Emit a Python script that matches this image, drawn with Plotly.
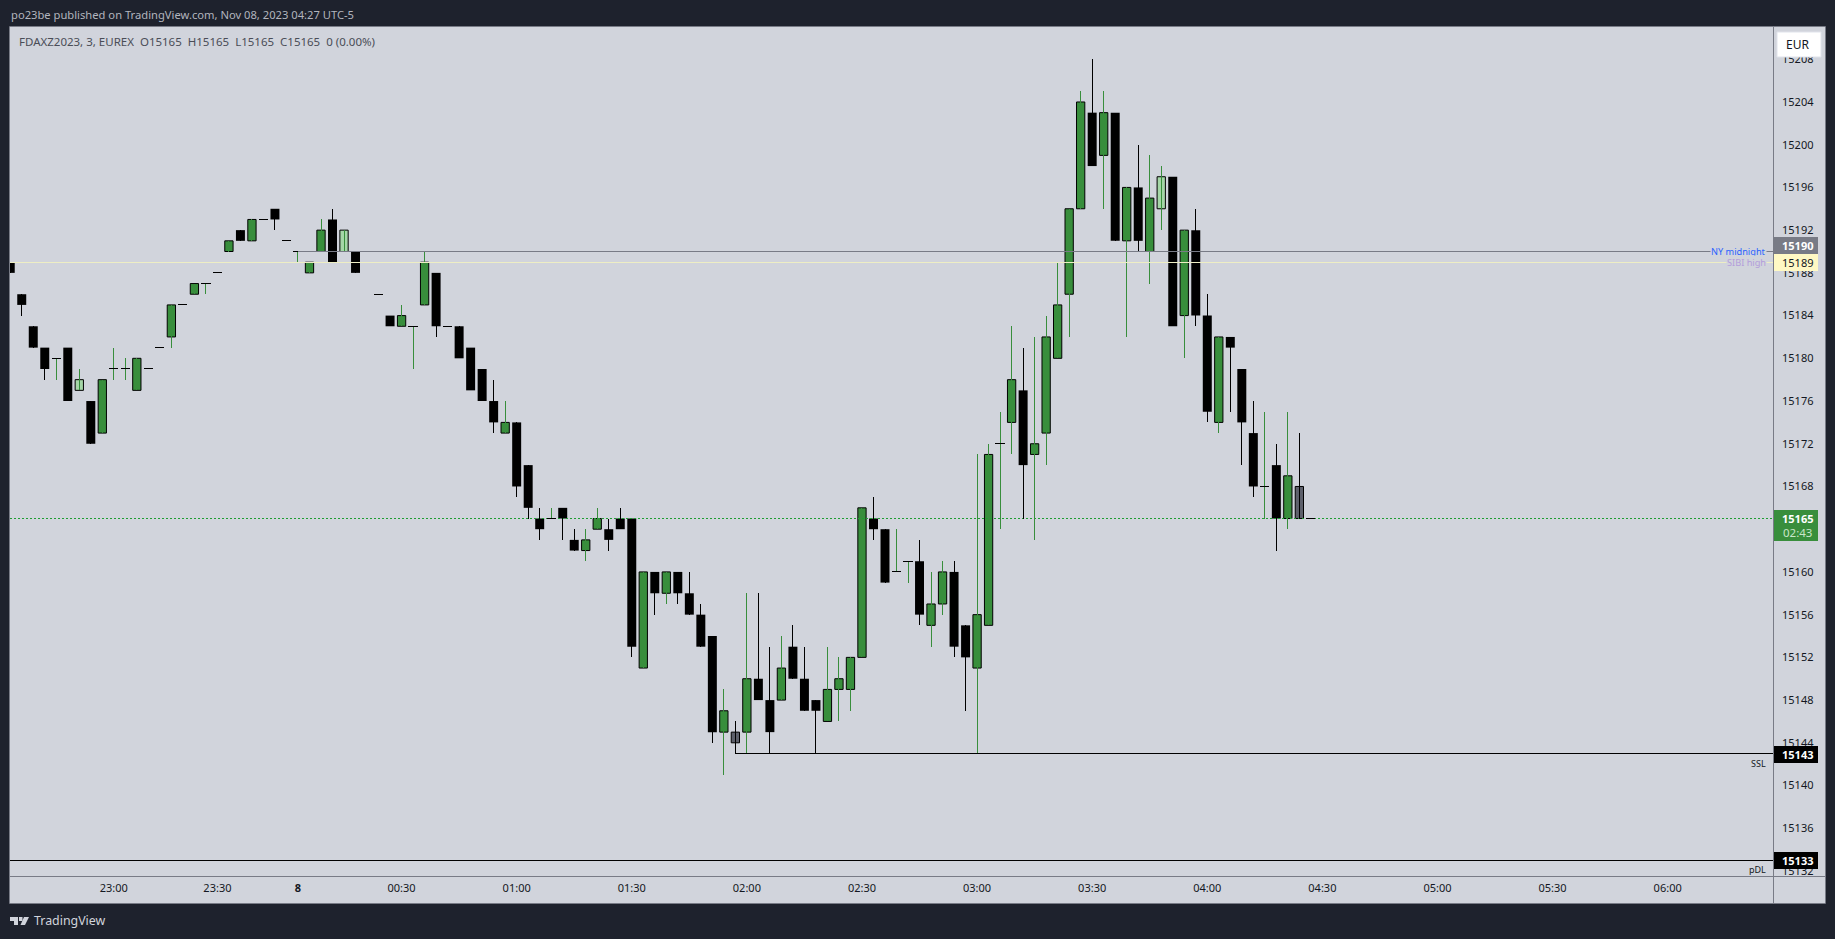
import plotly.graph_objects as go

opens  = [15189,15186,15183,15181,15180,15181,15177,15176,15173,15179,15179,15177,15179,15181,15182,15185,15186,15187,15188,15190,
          15192,15191,15193,15194,15191,15190,15188,15190,15193,15190,15190,None,15186,15184,15183,15183,15185,15188,15183,15183,
          15181,15179,15176,15173,15174,15170,15165,15165,15166,15163,15162,15164,15164,15165,15165,15151,15160,15158,15160,15158,
          15156,15154,15145,15145,15145,15150,15148,15148,15153,15150,15148,15146,15149,15149,15152,15165,15164,15160,15161,15161,
          15155,15157,15160,15155,15151,15155,15172,15174,15177,15171,15173,15180,15186,15194,15203,15199,15203,15191,15196,15190,
          15194,15197,15184,15192,15184,15174,15182,15179,15173,15168,15170,15165,15168,15165]
highs  = [15189,15186,15183,15181,15180,15181,15179,15176,15178,15181,15180,15180,15179,15181,15185,15185,15187,15187,15188,15191,
          15192,15193,15193,15194,15191,15190,15189,15193,15194,15192,15190,None,15186,15184,15185,15183,15190,15188,15183,15183,
          15181,15179,15178,15176,15174,15170,15166,15166,15166,15164,15164,15166,15165,15166,15165,15160,15160,15160,15160,15160,
          15157,15154,15149,15146,15158,15158,15153,15154,15155,15153,15148,15153,15152,15152,15166,15167,15164,15164,15161,15163,
          15160,15161,15161,15155,15171,15172,15175,15183,15181,15182,15184,15189,15194,15205,15208,15205,15203,15196,15200,15199,
          15198,15197,15192,15194,15186,15182,15182,15179,15176,15175,15172,15175,15173,15165]
lows   = [15188,15184,15181,15178,15178,15176,15177,15172,15173,15178,15178,15177,15179,15181,15181,15185,15186,15186,15188,15190,
          15191,15191,15193,15192,15191,15189,15188,15190,15189,15190,15188,None,15186,15183,15183,15179,15185,15182,15183,15180,
          15177,15176,15173,15173,15167,15165,15163,15165,15163,15162,15161,15164,15162,15164,15152,15151,15156,15157,15157,15156,
          15153,15144,15141,15143,15143,15148,15143,15148,15150,15147,15143,15146,15146,15147,15152,15163,15159,15160,15159,15155,
          15153,15156,15152,15147,15143,15155,15164,15171,15165,15163,15170,15180,15182,15194,15198,15194,15191,15182,15190,15187,
          15192,15183,15180,15183,15174,15173,15175,15170,15167,15165,15162,15164,15165,15165]
closes = [15188,15185,15181,15179,15180,15176,15178,15172,15178,15179,15179,15180,15179,15181,15185,15185,15187,15187,15188,15191,
          15191,15193,15193,15193,15191,15190,15189,15192,15189,15192,15188,None,15186,15183,15184,15183,15189,15183,15183,15180,
          15177,15176,15174,15174,15168,15166,15164,15165,15165,15162,15163,15165,15163,15164,15153,15160,15158,15160,15158,15156,
          15153,15145,15147,15144,15150,15148,15145,15151,15150,15147,15147,15149,15150,15152,15166,15164,15159,15160,15161,15156,
          15157,15160,15153,15152,15156,15171,15172,15178,15170,15172,15182,15185,15194,15204,15198,15203,15191,15196,15191,15195,
          15197,15183,15192,15184,15175,15182,15181,15174,15168,15168,15165,15169,15165,15165]

light_bars = [6, 29, 100]
gray_bars = [63, 112]

price_ticks = list(range(15132, 15209, 4))
time_tick_bars = [9, 18, 25, 34, 44, 54, 64, 74, 84, 94, 104, 114, 124, 134, 144]
time_tick_labels = ["23:00", "23:30", "<b>8</b>", "00:30", "01:00", "01:30", "02:00", "02:30", "03:00",
                    "03:30", "04:00", "04:30", "05:00", "05:30", "06:00"]

ny_midnight, sibi_high, last_price, ssl_level, pdl_level = 15190, 15189, 15165, 15143, 15133
ny_start_bar, ssl_start_bar = 25, 63

BG = "#d1d4dc"; DARK = "#1e222d"; FRAME = "#787b86"; GREEN = "#388e3c"; LIGHT = "#a5d6a7"; GRAY = "#5d606b"
FONT = "Noto Sans"
W, H = 1835, 939
L, R, T, B = 10, 1773, 27, 876
X_RANGE = [-0.02, 153.15]
Y_RANGE = [15131.53, 15211.02]

def px(x): return (x - L) / (R - L)
def py(y): return (B - y) / (B - T)

idx = [i for i, o in enumerate(opens) if o is not None]

def segs(xy):
    xs, ys = [], []
    for a, b, c, d in xy:
        xs += [a, b, None]; ys += [c, d, None]
    return xs, ys

green_w = [(i, i, lows[i], highs[i]) for i in idx if closes[i] >= opens[i] and highs[i] > lows[i]]
black_w = [(i, i, lows[i], highs[i]) for i in idx if closes[i] < opens[i] and highs[i] > lows[i]]
doji = [(i - 0.4, i + 0.4, opens[i], opens[i]) for i in idx if opens[i] == closes[i]]

def body(ids):
    return dict(x=ids, base=[min(opens[i], closes[i]) for i in ids], y=[abs(closes[i] - opens[i]) for i in ids])

special = set(light_bars + gray_bars)
up = [i for i in idx if closes[i] > opens[i] and i not in special]
down = [i for i in idx if closes[i] < opens[i] and i not in special]

fig = go.Figure()
fig.add_trace(go.Scatter(x=[X_RANGE[0], X_RANGE[1]], y=[last_price] * 2, mode="lines",
                         line=dict(color="#1f9e33", width=1, dash="2px,2px")))
xs, ys = segs(green_w)
fig.add_trace(go.Scatter(x=xs, y=ys, mode="lines", line=dict(color=GREEN, width=1)))
xs, ys = segs(black_w)
fig.add_trace(go.Scatter(x=xs, y=ys, mode="lines", line=dict(color="#000000", width=1)))
xs, ys = segs(doji)
fig.add_trace(go.Scatter(x=xs, y=ys, mode="lines", line=dict(color="#000000", width=1)))
fig.add_trace(go.Bar(**body(down), width=0.78, marker=dict(color="#000000", line=dict(width=0))))
fig.add_trace(go.Bar(**body(up), width=0.72, marker=dict(color=GREEN, line=dict(color="#000000", width=1))))
fig.add_trace(go.Bar(**body(light_bars), width=0.72, marker=dict(color=LIGHT, line=dict(color="#000000", width=1))))
fig.add_trace(go.Bar(**body(gray_bars), width=0.72, marker=dict(color=GRAY, line=dict(color="#000000", width=1))))
fig.add_trace(go.Scatter(x=[ny_start_bar, X_RANGE[1]], y=[ny_midnight] * 2, mode="lines", line=dict(color=FRAME, width=1)))
fig.add_trace(go.Scatter(x=[X_RANGE[0], X_RANGE[1]], y=[sibi_high] * 2, mode="lines", line=dict(color="#eeeec4", width=1)))
fig.add_trace(go.Scatter(x=[ssl_start_bar, X_RANGE[1]], y=[ssl_level] * 2, mode="lines", line=dict(color="#000000", width=1)))
fig.add_trace(go.Scatter(x=[X_RANGE[0], X_RANGE[1]], y=[pdl_level] * 2, mode="lines", line=dict(color="#000000", width=1)))

shapes = []
def rect(x0, y0, x1, y1, fill, layer="above", line=None):
    shapes.append(dict(type="rect", xref="paper", yref="paper", x0=px(x0), x1=px(x1), y0=py(y1), y1=py(y0),
                       fillcolor=fill, layer=layer, line=dict(width=1 if line else 0, color=line or fill)))
def hline(x0, y0, x1, y1, color=FRAME):
    shapes.append(dict(type="line", xref="paper", yref="paper", x0=px(x0), x1=px(x1), y0=py(y0), y1=py(y1),
                       layer="above", line=dict(color=color, width=1)))

rect(R, T, 1825, 903, BG, layer="below")
rect(L, B, R, 903, BG, layer="below")
hline(R + 0.5, T, R + 0.5, 903); hline(L, B + 0.5, 1825, B + 0.5)
hline(L - 0.5, T - 0.5, 1825.5, T - 0.5); hline(L - 0.5, T - 0.5, L - 0.5, 903.5)
hline(1825.5, T - 0.5, 1825.5, 903.5); hline(L - 0.5, 903.5, 1825.5, 903.5)

# price tags
rect(R + 1, 237, 1818, 254, FRAME)
rect(R + 1, 254, 1818, 271, "#fff9c4")
rect(R + 1, 510, 1818, 541, GREEN)
rect(R + 1, 746, 1818, 763, "#000000")
rect(R + 1, 852, 1818, 869, "#000000")
# EUR button
rect(1777, 32, 1821, 57, "#ffffff", line="#e0e3eb")

# logo
def poly(points, fill):
    d = "M" + "L".join(f"{px(a)},{py(b)}" for a, b in points) + "Z"
    shapes.append(dict(type="path", xref="paper", yref="paper", path=d, fillcolor=fill, layer="above", line=dict(width=0)))
LOGO = "#d1d4dc"
poly([(10, 917), (18, 917), (18, 925), (14, 925), (14, 921), (10, 921)], LOGO)
poly([(19, 917), (22.5, 917), (22.5, 921), (19, 921)], LOGO)
poly([(24, 917), (29, 917), (25, 925), (20.5, 925)], LOGO)

anns = []
def text(x, y, s, size=11, color="#131722", anchor="left", bg=None, weight=None):
    t = f"<b>{s}</b>" if weight else s
    a = dict(xref="paper", yref="paper", x=px(x), y=py(y), text=t, showarrow=False, xanchor=anchor, yanchor="middle",
             font=dict(family=FONT, size=size, color=color), borderpad=0)
    if bg: a["bgcolor"] = bg
    anns.append(a)

text(L, 15, "po23be published on TradingView.com, Nov 08, 2023 04:27 UTC-5", size=11.2, color="#b2b5be")
text(17.5, 41.5, "FDAXZ2023, 3, EUREX&nbsp;&nbsp;O15165&nbsp;&nbsp;H15165&nbsp;&nbsp;L15165&nbsp;&nbsp;C15165&nbsp;&nbsp;0 (0.00%)", size=11.5, color="#4a4d57")
text(32.5, 921, "TradingView", size=12.4, color="#d1d4dc")
text(1797.5, 44, "EUR", size=12, anchor="center")
text(1797, 245.5, "15190", size=11, color="#ffffff", anchor="center", weight=True)
text(1797, 262.5, "15189", size=11, anchor="center")
text(1797, 518.5, "15165", size=11, color="#ffffff", anchor="center", weight=True)
text(1797, 532.5, "02:43", size=11.5, color="#c8e6c9", anchor="center")
text(1797, 754.5, "15143", size=11, color="#ffffff", anchor="center", weight=True)
text(1797, 860.5, "15133", size=11, color="#ffffff", anchor="center", weight=True)
text(1767, 251.5, "NY midnight", size=9.2, color="#2962ff", anchor="right", bg=BG)
text(1767, 262, "SIBI high", size=9.2, color="#b39ddb", anchor="right", bg=BG)
text(1767, 763, "SSL", size=9, color="#131722", anchor="right")
text(1767, 869, "pDL", size=9, color="#131722", anchor="right")

fig.update_layout(
    width=W, height=H, autosize=False, showlegend=False, barmode="overlay", hovermode=False,
    paper_bgcolor=DARK, plot_bgcolor=BG,
    margin=dict(l=L, r=W - R, t=T, b=H - B, pad=0),
    font=dict(family=FONT, size=11, color="#131722"),
    shapes=shapes, annotations=anns,
    xaxis=dict(range=X_RANGE, tickmode="array", tickvals=time_tick_bars, ticktext=time_tick_labels, showgrid=False,
               zeroline=False, showline=False, ticks="", ticklabelstandoff=4, tickfont=dict(family=FONT, size=11, color="#131722")),
    yaxis=dict(range=Y_RANGE, side="right", tickmode="array", tickvals=price_ticks, ticktext=[str(t) for t in price_ticks],
               showgrid=False, zeroline=False, showline=False, ticks="", ticklabelstandoff=8,
               tickfont=dict(family=FONT, size=11, color="#131722")),
)

post = """
document.body.style.margin='0';document.body.style.overflow='hidden';
var s=document.createElement('style');s.textContent='.js-line{shape-rendering:crispEdges}';document.head.appendChild(s);
"""
fig.write_html("out.html", post_script=post, config={"displayModeBar": False})
